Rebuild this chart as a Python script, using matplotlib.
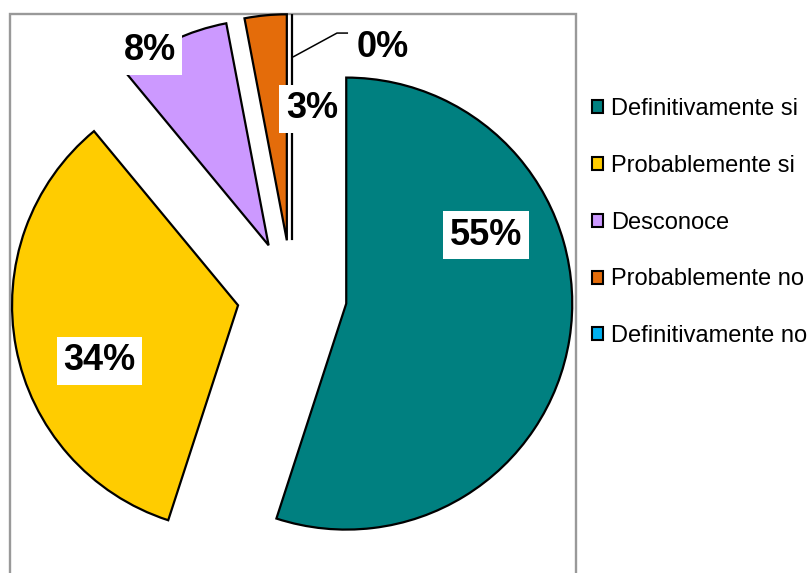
import matplotlib
matplotlib.use("Agg")
import matplotlib.pyplot as plt
from matplotlib.patches import Patch, Rectangle

plt.rcParams['font.family'] = ['Liberation Sans', 'DejaVu Sans']

# data
categories = ['Definitivamente si', 'Probablemente si', 'Desconoce',
              'Probablemente no', 'Definitivamente no']
values = [55, 34, 8, 3, 0]
labels = ['55%', '34%', '8%', '3%', '0%']
colors = ['#008080', '#FFCC00', '#CC99FF', '#E46C0A', '#00B0F0']

# label spots (pie-radius units, pie centre = 0,0)
label_pos = [(0.858, 0.265), (-0.852, -0.290), (-0.630, 1.080),
             (0.088, 0.825), (0.403, 1.097)]

W, H = 811, 573
cx, cy, R = 292, 295, 226  # pie centre and radius in pixels

fig = plt.figure(figsize=(W / 100, H / 100), dpi=100)
ax = fig.add_axes([0, 0, 1, 1])

wedges, _ = ax.pie(values, colors=colors, startangle=90, counterclock=False,
                   explode=[0.243] * len(values), radius=1,
                   wedgeprops=dict(edgecolor='black', linewidth=1.6))
for w in wedges:
    w.set_zorder(2)

ax.set_aspect('auto')
ax.set_xlim(-cx / R, (W - cx) / R)
ax.set_ylim((cy - H) / R, cy / R)
ax.axis('off')

# plot area border
border = Rectangle((10 / W, -0.05), 565.5 / W, 1.05 - 14 / H,
                   transform=fig.transFigure, fill=False,
                   edgecolor='#999999', linewidth=1.7, zorder=0, clip_on=False)
ax.add_patch(border)

# leader line for the 0% label
ax.plot([0.004, 0.199, 0.248], [1.053, 1.159, 1.159], color='black',
        linewidth=1.1, zorder=3, solid_capstyle='butt')

for (x, y), txt in zip(label_pos, labels):
    ax.text(x, y, txt, ha='center', va='center', fontsize=26,
            fontweight='bold', zorder=4,
            bbox=dict(boxstyle='square,pad=0.18', facecolor='white',
                      edgecolor='none'))

handles = [Patch(facecolor=c, edgecolor='black', linewidth=1.5) for c in colors]
fig.legend(handles, categories, loc='upper left',
           bbox_to_anchor=(592 / W, 1 - 98 / H), frameon=False,
           fontsize=17, borderpad=0, borderaxespad=0,
           handlelength=0.47, handleheight=0.47, handletextpad=0.34,
           labelspacing=1.475)

fig.savefig('out.png', dpi=100)
